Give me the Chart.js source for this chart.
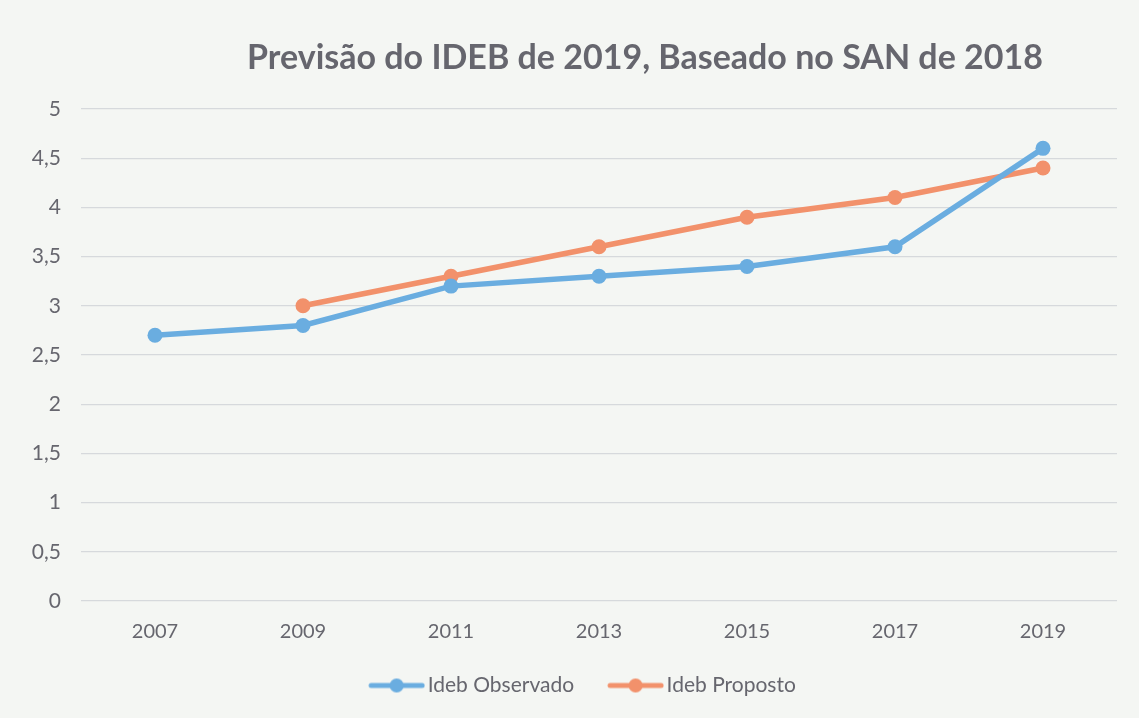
<!DOCTYPE html>
<html>
<head>
<meta charset="utf-8">
<script src="https://cdn.jsdelivr.net/npm/chart.js@4"></script>
<style>
  html, body { margin: 0; padding: 0; background: #f4f6f3; }
  #wrap { width: 1139px; height: 718px; }
</style>
</head>
<body>
<div id="wrap"><canvas id="myChart" width="1139" height="718"></canvas></div>
<script>
// categories and series
const years = ["2007", "2009", "2011", "2013", "2015", "2017", "2019"];
const observado = [2.7, 2.8, 3.2, 3.3, 3.4, 3.6, 4.6];
const proposto = [null, 3.0, 3.3, 3.6, 3.9, 4.1, 4.4];
const seriesNames = ["Ideb Observado", "Ideb Proposto"];
const chartTitle = "Previsão do IDEB de 2019, Baseado no SAN de 2018";

const blue = "#6aade0";
const orange = "#f2916b";
const textGrey = "#66666e";

// legend marker: short line with a dot in the middle (drawn at right of canvas)
function legendMarker(color) {
  const c = document.createElement("canvas");
  c.width = 76; c.height = 16;
  const g = c.getContext("2d");
  g.strokeStyle = color;
  g.lineWidth = 5;
  g.lineCap = "round";
  g.beginPath(); g.moveTo(22, 8); g.lineTo(73, 8); g.stroke();
  g.fillStyle = color;
  g.beginPath(); g.arc(47.5, 8, 7, 0, Math.PI * 2); g.fill();
  return c;
}

const bg = {
  id: "bg",
  beforeDraw(chart) {
    const ctx = chart.ctx;
    ctx.save();
    ctx.fillStyle = "#f4f6f3";
    ctx.fillRect(0, 0, chart.width, chart.height);
    ctx.restore();
  },
  afterLayout(chart) {
    // legend sits a bit right of centre in the original
    chart.legend.left += 18;
    chart.legend.right += 18;
  },
  afterDraw(chart) {
    // title, placed like the original (slightly right of centre)
    const ctx = chart.ctx;
    ctx.save();
    ctx.fillStyle = textGrey;
    ctx.font = "bold 34px Lato";
    ctx.textAlign = "center";
    ctx.textBaseline = "middle";
    ctx.fillText(chartTitle, 645, 58);
    ctx.restore();
  }
};

const context = document.getElementById("myChart").getContext("2d");

const myChart = new Chart(context, {
  type: "line",
  data: {
    labels: years,
    datasets: [
      {
        label: seriesNames[0],
        data: observado,
        borderColor: blue,
        backgroundColor: blue,
        borderWidth: 5.5,
        pointRadius: 7.5,
        pointBorderWidth: 0
      },
      {
        label: seriesNames[1],
        data: proposto,
        borderColor: orange,
        backgroundColor: orange,
        borderWidth: 5.5,
        pointRadius: 7.5,
        pointBorderWidth: 0
      }
    ]
  },
  options: {
    responsive: false,
    animation: false,
    layout: { padding: { left: 0, right: 22, top: 109, bottom: 12 } },
    plugins: {
      title: { display: false },
      legend: {
        position: "bottom",
        labels: {
          usePointStyle: true,
          pointStyleWidth: 60,
          boxHeight: 16,
          padding: 22,
          color: textGrey,
          font: { family: "Lato", size: 21 },
          generateLabels(chart) {
            return chart.data.datasets.map((ds, i) => ({
              text: ds.label,
              fillStyle: ds.borderColor,
              strokeStyle: ds.borderColor,
              lineWidth: 0,
              pointStyle: legendMarker(ds.borderColor),
              datasetIndex: i,
              hidden: false,
              fontColor: textGrey
            }));
          }
        }
      },
      tooltip: { enabled: false }
    },
    scales: {
      x: {
        offset: true,
        afterFit(scale) { scale.height = 52; },
        grid: { display: false },
        border: { display: false },
        ticks: { color: textGrey, font: { family: "Lato", size: 20 }, padding: 11 }
      },
      y: {
        min: 0,
        max: 5,
        afterFit(scale) { scale.width = 81; },
        grid: { color: "#d6d9dc", lineWidth: 1.2, drawTicks: false },
        border: { display: false },
        ticks: {
          stepSize: 0.5,
          padding: 20,
          color: textGrey,
          font: { family: "Lato", size: 21 },
          callback: (v) => String(v).replace(".", ",")
        }
      }
    }
  },
  plugins: [bg]
});
</script>
</body>
</html>
